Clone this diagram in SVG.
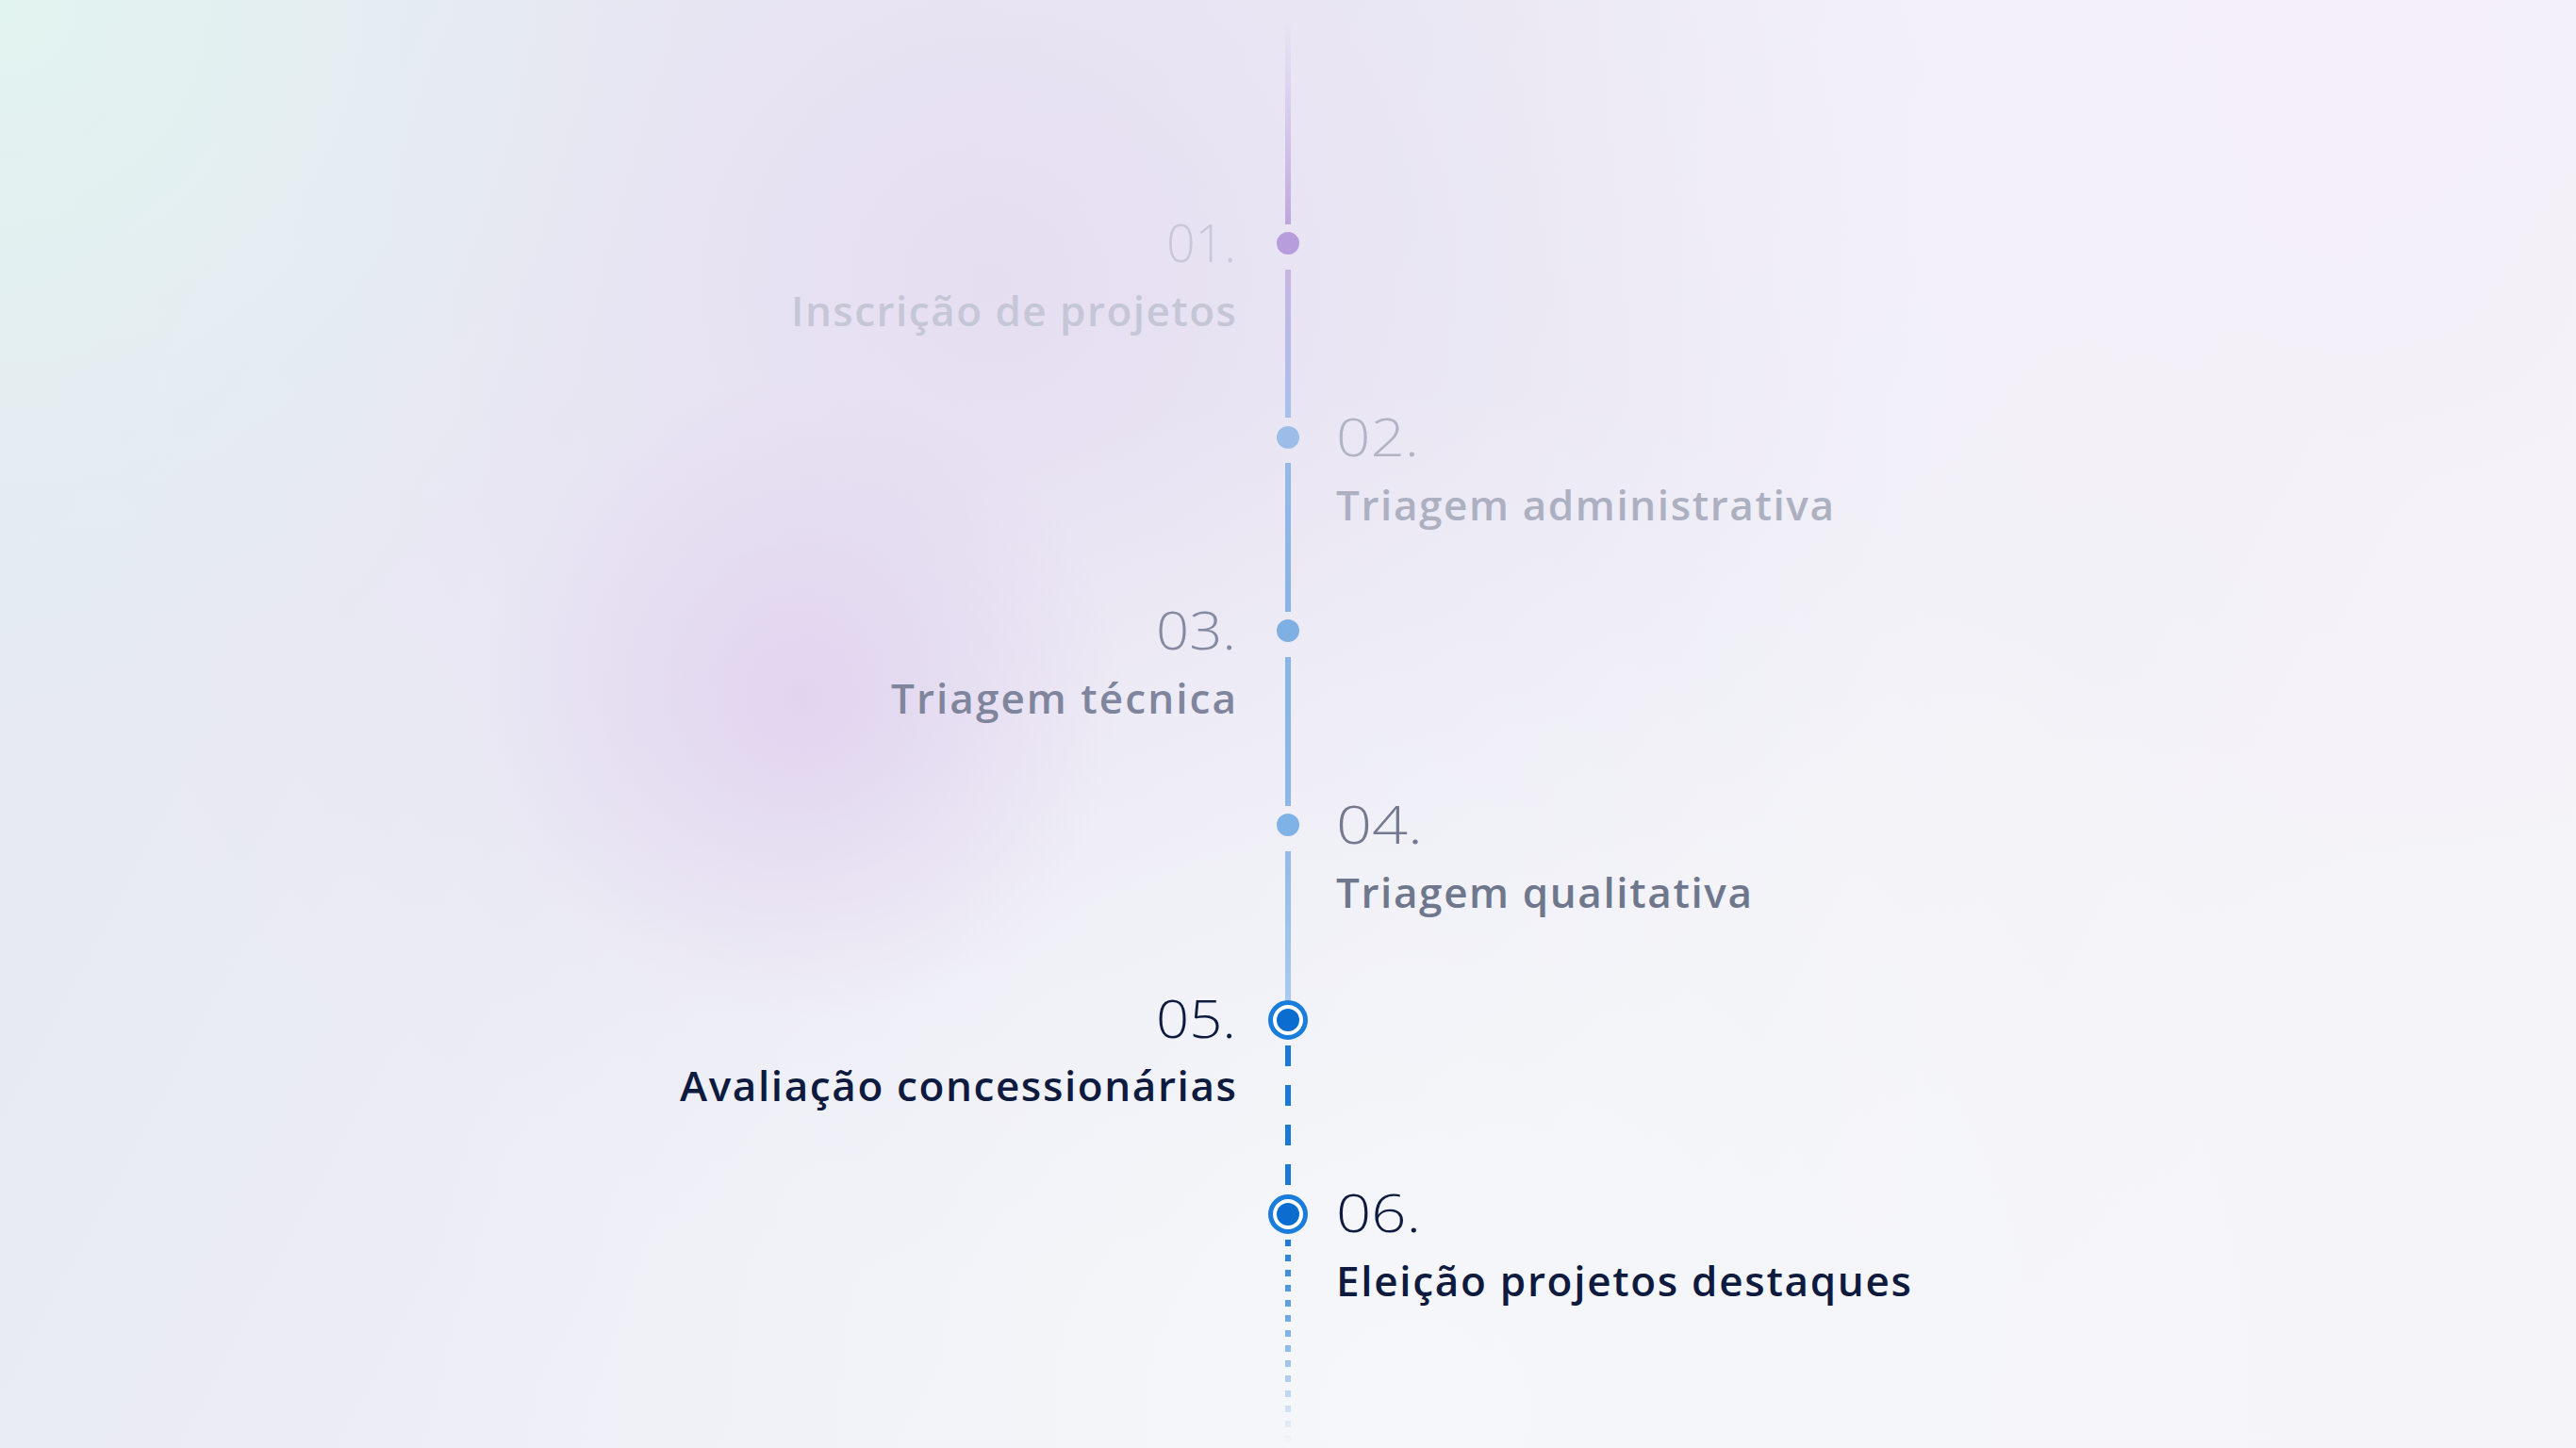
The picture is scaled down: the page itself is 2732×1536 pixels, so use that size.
<svg xmlns="http://www.w3.org/2000/svg" width="2732" height="1536" viewBox="0 0 2732 1536">
<defs>
<linearGradient id="bgBase" x1="0" y1="0" x2="1" y2="0.3">
<stop offset="0" stop-color="#e3e8f1"/>
<stop offset="0.5" stop-color="#eeeef6"/>
<stop offset="1" stop-color="#f5f4f9"/>
</linearGradient>
<radialGradient id="bgMint" cx="0" cy="0" r="750" gradientUnits="userSpaceOnUse">
<stop offset="0" stop-color="#e2f4f0"/>
<stop offset="1" stop-color="#e2f4f0" stop-opacity="0"/>
</radialGradient>
<radialGradient id="bgLav" cx="1050" cy="300" r="1050" gradientUnits="userSpaceOnUse">
<stop offset="0" stop-color="#e5def1"/>
<stop offset="0.6" stop-color="#e8e3f3" stop-opacity="0.5"/>
<stop offset="1" stop-color="#e8e3f3" stop-opacity="0"/>
</radialGradient>
<radialGradient id="bgBlob" cx="850" cy="740" r="340" gradientUnits="userSpaceOnUse">
<stop offset="0" stop-color="#e1d4ef"/>
<stop offset="1" stop-color="#e1d4ef" stop-opacity="0"/>
</radialGradient>
<radialGradient id="bgTR" cx="2500" cy="80" r="900" gradientUnits="userSpaceOnUse">
<stop offset="0" stop-color="#f4eff9"/>
<stop offset="1" stop-color="#f4eff9" stop-opacity="0"/>
</radialGradient>
<radialGradient id="bgBot" cx="1500" cy="1500" r="1100" gradientUnits="userSpaceOnUse">
<stop offset="0" stop-color="#f5f7fa"/>
<stop offset="1" stop-color="#f5f7fa" stop-opacity="0"/>
</radialGradient>
<linearGradient id="lineGrad" x1="0" y1="20" x2="0" y2="1062" gradientUnits="userSpaceOnUse">
<stop offset="0" stop-color="#c8b6e4" stop-opacity="0"/>
<stop offset="0.21" stop-color="#bea6df"/>
<stop offset="0.26" stop-color="#c7b5e3"/>
<stop offset="0.41" stop-color="#a5c0ea"/>
<stop offset="0.45" stop-color="#95b8e8"/>
<stop offset="0.61" stop-color="#87b3e6"/>
<stop offset="0.81" stop-color="#8cb7e7"/>
<stop offset="1" stop-color="#a8caee"/>
</linearGradient>
<linearGradient id="dotGrad" x1="0" y1="1312" x2="0" y2="1532" gradientUnits="userSpaceOnUse">
<stop offset="0" stop-color="#1a78d8"/>
<stop offset="1" stop-color="#1a78d8" stop-opacity="0"/>
</linearGradient>
<style>
.num{font-family:"Open Sans",Lato,"Liberation Sans",sans-serif;font-weight:300;font-size:56px}
.lbl{font-family:"Open Sans",Lato,"Liberation Sans",sans-serif;font-weight:600;font-size:44px}
.l{text-anchor:end}
.ring{fill:#ffffff;stroke:#1a7ddc;stroke-width:5}
.core{fill:#0a6dcf}
</style>
</defs>

<g id="background">
<rect x="0" y="0" width="2732" height="1536" fill="url(#bgBase)"/>
<rect x="0" y="0" width="2732" height="1536" fill="url(#bgLav)"/>
<rect x="0" y="0" width="2732" height="1536" fill="url(#bgTR)"/>
<rect x="0" y="0" width="2732" height="1536" fill="url(#bgBot)"/>
<rect x="0" y="0" width="2732" height="1536" fill="url(#bgBlob)"/>
<rect x="0" y="0" width="2732" height="1536" fill="url(#bgMint)"/>
</g>

<g id="connectors">
<rect x="1363" y="20" width="6" height="218" fill="url(#lineGrad)"/>
<rect x="1363" y="286" width="6" height="157" fill="url(#lineGrad)"/>
<rect x="1363" y="491" width="6" height="158" fill="url(#lineGrad)"/>
<rect x="1363" y="697" width="6" height="158" fill="url(#lineGrad)"/>
<rect x="1363" y="903" width="6" height="159" fill="url(#lineGrad)"/>
<line x1="1366" y1="1109" x2="1366" y2="1262" stroke="#1a78d8" stroke-width="6" stroke-dasharray="22 20"/>
<line x1="1366" y1="1315" x2="1366" y2="1532" stroke="url(#dotGrad)" stroke-width="6" stroke-dasharray="7 9"/>
</g>

<g id="step01">
<circle cx="1366" cy="258" r="12" fill="#b89ddc"/>
<text class="num l" x="1311" y="278" fill="#c8c8d8" textLength="74" lengthAdjust="spacingAndGlyphs">01.</text>
<text class="lbl l" x="1311" y="346" fill="#c5c6d6" textLength="472">Inscrição de projetos</text>
</g>

<g id="step02">
<circle cx="1366" cy="464" r="12" fill="#9bbde8"/>
<text class="num" x="1417" y="484" fill="#b2b4c6" textLength="88" lengthAdjust="spacingAndGlyphs">02.</text>
<text class="lbl" x="1417" y="552" fill="#adb0c1" textLength="528">Triagem administrativa</text>
</g>

<g id="step03">
<circle cx="1366" cy="669" r="12" fill="#7fb0e4"/>
<text class="num l" x="1311" y="689" fill="#858aa2" textLength="85" lengthAdjust="spacingAndGlyphs">03.</text>
<text class="lbl l" x="1311" y="757" fill="#7f859c" textLength="366">Triagem técnica</text>
</g>

<g id="step04">
<circle cx="1366" cy="875" r="12" fill="#7fb2e6"/>
<text class="num" x="1417" y="895" fill="#737a90" textLength="92" lengthAdjust="spacingAndGlyphs">04.</text>
<text class="lbl" x="1417" y="963" fill="#6f778d" textLength="441">Triagem qualitativa</text>
</g>

<g id="step05">
<circle class="ring" cx="1366" cy="1082" r="18.5"/>
<circle class="core" cx="1366" cy="1082" r="12"/>
<text class="num l" x="1311" y="1101" fill="#0e1b3f" textLength="85" lengthAdjust="spacingAndGlyphs">05.</text>
<text class="lbl l" x="1311" y="1168" fill="#0e1b3f" textLength="590">Avaliação concessionárias</text>
</g>

<g id="step06">
<circle class="ring" cx="1366" cy="1288" r="18.5"/>
<circle class="core" cx="1366" cy="1288" r="12"/>
<text class="num" x="1417" y="1307" fill="#0e1b3f" textLength="90" lengthAdjust="spacingAndGlyphs">06.</text>
<text class="lbl" x="1417" y="1375" fill="#0e1b3f" textLength="610">Eleição projetos destaques</text>
</g>
</svg>
